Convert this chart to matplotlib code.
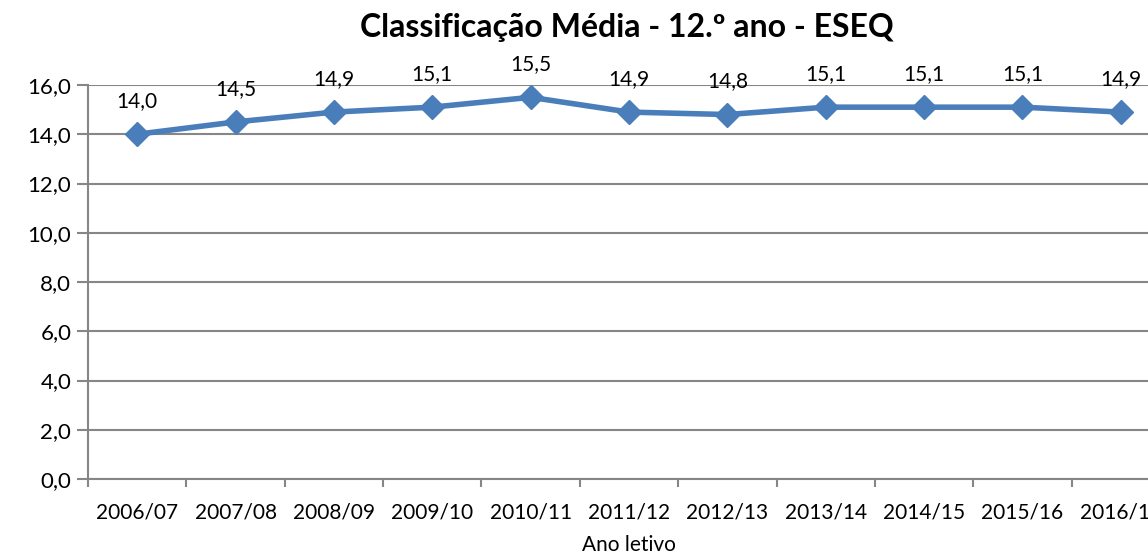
import matplotlib
matplotlib.use("Agg")
import matplotlib.pyplot as plt
import numpy as np

plt.rcParams['font.family'] = ['Lato', 'DejaVu Sans']

anos = ["2006/07", "2007/08", "2008/09", "2009/10", "2010/11", "2011/12",
        "2012/13", "2013/14", "2014/15", "2015/16", "2016/17"]
medias = [14.0, 14.5, 14.9, 15.1, 15.5, 14.9, 14.8, 15.1, 15.1, 15.1, 14.9]
y_ticks = [0, 2, 4, 6, 8, 10, 12, 14, 16]

linha = "#4A7EBB"
cinza = "#868686"

fig = plt.figure(figsize=(11.48, 5.58), dpi=100)
ax = fig.add_axes([88 / 1148, 1 - 479 / 558, (1170 - 88) / 1148, (479 - 85) / 558])

x = np.arange(len(anos))
ax.plot(x, medias, color=linha, lw=4, marker="D", markersize=12,
        markerfacecolor=linha, markeredgecolor=linha, zorder=3, clip_on=False)

for xi, v in zip(x, medias):
    ax.annotate(f"{v:.1f}".replace(".", ","), (xi, v), xytext=(0, 24),
                textcoords="offset points", ha="center", va="center",
                fontsize=15, color="black")

ax.set_xlim(-0.5, len(anos) - 0.5)
ax.set_ylim(0, 16)
ax.set_yticks(y_ticks)
ax.set_yticklabels([f"{t:.1f}".replace(".", ",") for t in y_ticks], fontsize=16)
ax.set_xticks(x)
ax.set_xticklabels(anos, fontsize=15)
ax.set_xticks(np.arange(-0.5, len(anos)), minor=True)
ax.tick_params(axis="x", which="major", length=0, pad=17)
ax.tick_params(axis="x", which="minor", length=6, width=1.5, color=cinza)
ax.tick_params(axis="y", length=8, width=1.5, color=cinza, pad=4)

ax.grid(axis="y", color=cinza, lw=1.5)
ax.set_axisbelow(True)
for s in ["top", "right"]:
    ax.spines[s].set_visible(False)
for s in ["left", "bottom"]:
    ax.spines[s].set_color(cinza)
    ax.spines[s].set_linewidth(1.5)

ax.set_xlabel("Ano letivo", fontsize=15, labelpad=9)
fig.text(627 / 1148, 1 - 28 / 558, "Classificação Média - 12.º ano - ESEQ",
         ha="center", va="center", fontsize=23, fontweight="bold")

fig.savefig("out.png", dpi=100)
